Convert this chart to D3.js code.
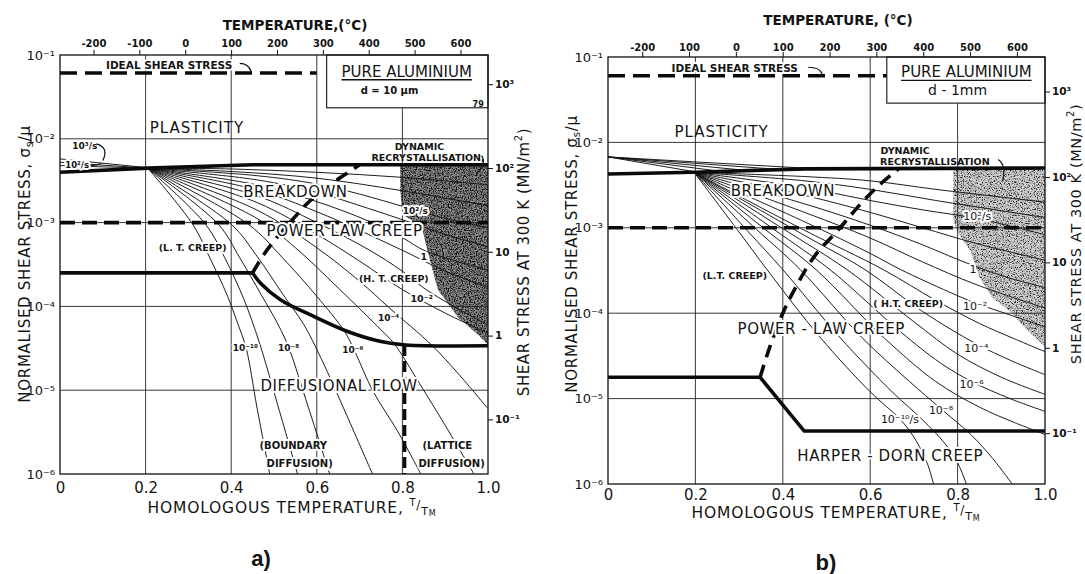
<!DOCTYPE html>
<html><head><meta charset="utf-8">
<script src="https://cdn.jsdelivr.net/npm/d3@7/dist/d3.min.js"></script>
<style>
html,body{margin:0;padding:0;background:#fff;}
svg{display:block;}
text{font-family:"DejaVu Sans","Liberation Sans",sans-serif;fill:#141414;}
.ko{paint-order:stroke;stroke:#fff;stroke-width:4px;stroke-linejoin:round;}
</style></head><body>
<svg id="chart" width="1085" height="574" xmlns="http://www.w3.org/2000/svg"></svg>
<script>
// ================= DATA =================
const homologousTicks = [0, 0.2, 0.4, 0.6, 0.8, 1.0];
const homologousLabels = ["0", "0.2", "0.4", "0.6", "0.8", "1.0"];
const stressExponents = [-1, -2, -3, -4, -5, -6];
const stressLabels = ["10⁻¹", "10⁻²", "10⁻³", "10⁻⁴", "10⁻⁵", "10⁻⁶"];
const celsiusTicks = [-200, -100, 0, 100, 200, 300, 400, 500, 600];
const celsiusLabelsA = ["-200", "-100", "0", "100", "200", "300", "400", "500", "600"];
const celsiusLabelsB = ["-200", "100", "0", "100", "200", "300", "400", "500", "600"];
const meltingPointK = 933;
const shearStressTicks = [1000, 100, 10, 1, 0.1];
const shearStressLabelsA = ["10³", "10²", "10", "1", "10⁻¹"];
const shearStressLabelsB = ["10³", "10²", "10", "1", "10⁻¹"];
const shearModulusA = 22300;   // MN/m2 at 300 K
const shearModulusB = 25400;
const gridT = [0.2, 0.4, 0.6, 0.8];
const gridL = [-2, -3, -4, -5];

// strain-rate contour exponents (10^e /s), top to bottom
const contourExponents = [4, 3, 2, 1, 0, -1, -2, -3, -4, -5, -6, -7, -8, -9, -10];

// (T/TM, log10 sigma/mu)
const contoursA = [
  [[0.205,-2.35],[0.40,-2.36],[0.60,-2.40],[0.80,-2.46],[1.0,-2.55]],
  [[0.205,-2.35],[0.40,-2.39],[0.60,-2.47],[0.80,-2.62],[1.0,-2.80]],
  [[0.205,-2.35],[0.46,-2.44],[0.60,-2.54],[0.70,-2.66],[0.81,-2.82],[0.90,-2.95],[1.0,-3.06]],
  [[0.205,-2.35],[0.46,-2.49],[0.60,-2.64],[0.72,-2.83],[0.82,-3.00],[0.90,-3.14],[1.0,-3.29]],
  [[0.205,-2.35],[0.46,-2.55],[0.60,-2.75],[0.72,-2.98],[0.80,-3.18],[0.85,-3.33],[0.92,-3.45],[1.0,-3.57]],
  [[0.205,-2.35],[0.46,-2.61],[0.60,-2.87],[0.72,-3.14],[0.82,-3.38],[0.90,-3.58],[1.0,-3.77]],
  [[0.205,-2.35],[0.46,-2.68],[0.60,-3.00],[0.72,-3.32],[0.80,-3.58],[0.85,-3.78],[0.92,-4.00],[1.0,-4.22]],
  [[0.205,-2.35],[0.46,-2.76],[0.60,-3.14],[0.70,-3.46],[0.80,-3.80],[0.90,-4.08],[1.0,-4.32]],
  [[0.205,-2.35],[0.46,-2.85],[0.60,-3.30],[0.70,-3.70],[0.77,-4.02],[0.87,-4.47],[0.93,-4.80],[1.0,-5.22]],
  [[0.205,-2.35],[0.46,-2.95],[0.55,-3.30],[0.65,-3.78],[0.75,-4.28],[0.78,-4.44],[0.84,-4.92],[0.90,-5.42],[0.967,-6.0]],
  [[0.205,-2.35],[0.44,-3.02],[0.52,-3.42],[0.60,-3.88],[0.665,-4.30],[0.69,-4.55],[0.73,-5.00],[0.79,-5.50],[0.843,-6.0]],
  [[0.205,-2.35],[0.40,-3.02],[0.46,-3.40],[0.52,-3.85],[0.57,-4.22],[0.61,-4.62],[0.67,-5.30],[0.73,-6.0]],
  [[0.205,-2.35],[0.37,-3.02],[0.42,-3.42],[0.47,-3.86],[0.51,-4.22],[0.535,-4.50],[0.58,-5.20],[0.63,-6.0]],
  [[0.205,-2.35],[0.34,-3.02],[0.385,-3.42],[0.43,-3.92],[0.465,-4.42],[0.51,-5.20],[0.555,-6.0]],
  [[0.205,-2.35],[0.31,-3.02],[0.35,-3.42],[0.39,-3.86],[0.415,-4.20],[0.435,-4.50],[0.46,-5.20],[0.49,-6.0]]
];
const contoursB = [
  [[0.197,-2.35],[0.45,-2.40],[0.60,-2.45],[0.75,-2.55],[0.90,-2.64],[1.0,-2.70]],
  [[0.197,-2.35],[0.45,-2.45],[0.60,-2.55],[0.75,-2.68],[0.90,-2.80],[1.0,-2.88]],
  [[0.197,-2.35],[0.45,-2.53],[0.60,-2.68],[0.72,-2.79],[0.845,-2.89],[0.92,-2.98],[1.0,-3.08]],
  [[0.197,-2.35],[0.45,-2.62],[0.60,-2.82],[0.72,-3.00],[0.84,-3.18],[1.0,-3.38]],
  [[0.197,-2.35],[0.45,-2.72],[0.60,-2.97],[0.72,-3.20],[0.80,-3.37],[0.90,-3.56],[1.0,-3.70]],
  [[0.197,-2.35],[0.45,-2.82],[0.60,-3.12],[0.72,-3.40],[0.84,-3.66],[1.0,-3.94]],
  [[0.197,-2.35],[0.45,-2.93],[0.60,-3.30],[0.67,-3.49],[0.78,-3.75],[0.84,-3.88],[0.92,-4.02],[1.0,-4.16]],
  [[0.197,-2.35],[0.45,-3.03],[0.63,-3.49],[0.75,-3.85],[0.85,-4.12],[0.93,-4.30],[1.0,-4.45]],
  [[0.197,-2.35],[0.45,-3.09],[0.588,-3.49],[0.72,-3.98],[0.843,-4.36],[0.92,-4.55],[1.0,-4.72]],
  [[0.197,-2.35],[0.40,-3.01],[0.547,-3.49],[0.70,-4.10],[0.80,-4.48],[0.90,-4.75],[1.0,-4.95]],
  [[0.197,-2.35],[0.38,-3.02],[0.508,-3.49],[0.67,-4.22],[0.76,-4.58],[0.832,-4.80],[0.92,-5.00],[1.0,-5.15]],
  [[0.197,-2.35],[0.36,-3.02],[0.476,-3.49],[0.63,-4.28],[0.75,-4.80],[0.85,-5.10],[0.93,-5.28],[1.0,-5.42]],
  [[0.197,-2.35],[0.34,-3.02],[0.44,-3.49],[0.58,-4.28],[0.69,-4.80],[0.762,-5.12],[0.83,-5.42],[0.88,-5.70],[0.925,-6.0]],
  [[0.197,-2.35],[0.32,-3.04],[0.40,-3.49],[0.53,-4.28],[0.65,-4.92],[0.72,-5.25],[0.77,-5.52],[0.80,-5.75],[0.82,-6.0]],
  [[0.197,-2.35],[0.30,-3.05],[0.364,-3.49],[0.485,-4.28],[0.60,-4.92],[0.668,-5.24],[0.70,-5.45],[0.73,-5.75],[0.745,-6.0]]
];
const plasticityContoursA = [
  [[0,-2.24],[0.205,-2.345]],
  [[0,-2.28],[0.205,-2.35]],
  [[0,-2.32],[0.205,-2.35]]
];
const plasticityContoursB = [
  [[0,-2.17],[0.20,-2.345]],
  [[0,-2.17],[0.26,-2.34]],
  [[0,-2.17],[0.32,-2.33]],
  [[0,-2.17],[0.40,-2.32]],
  [[0,-2.17],[0.48,-2.31]]
];
const plasticityBoundaryA = [[0,-2.40],[0.205,-2.35],[0.45,-2.31],[1,-2.31]];
const plasticityBoundaryB = [[0,-2.37],[0.197,-2.35],[0.45,-2.31],[1,-2.30]];
const idealShearA = [[0,-1.215],[0.60,-1.215]];
const idealShearB = [[0,-1.22],[0.638,-1.22]];
const breakdownLimitA = [[0,-3],[1,-3]];
const breakdownLimitB = [[0,-3],[1,-3]];
const creepFloorA = [[0,-3.6],[0.45,-3.6]];
const diffusionBoundaryA = [[0.45,-3.6],[0.468,-3.72],[0.515,-3.92],[0.593,-4.12],[0.672,-4.30],[0.75,-4.42],[0.808,-4.46],[1.0,-4.47]];
const ltHtBoundaryA = [[0.45,-3.6],[0.475,-3.39],[0.508,-3.17],[0.539,-2.99],[0.574,-2.79],[0.609,-2.63],[0.656,-2.46],[0.70,-2.31]];
const latticeBoundaryA = [[0.805,-4.46],[0.805,-6]];
const harperDornBoundaryB = [[0,-4.75],[0.348,-4.75],[0.449,-5.38],[1,-5.38]];
const ltHtBoundaryB = [[0.348,-4.75],[0.37,-4.40],[0.40,-4.00],[0.423,-3.76],[0.47,-3.35],[0.531,-3.00],[0.58,-2.71],[0.625,-2.48],[0.665,-2.31]];
const recrystallisationA = [[0.795,-2.31],[1.0,-2.31],[1.0,-4.46],[0.984,-4.37],[0.93,-4.13],[0.883,-3.80],[0.862,-3.40],[0.845,-3.05],[0.80,-2.90],[0.795,-2.60]];
const recrystallisationB = [[0.79,-2.30],[1.0,-2.30],[1.0,-4.40],[0.96,-4.20],[0.92,-3.98],[0.88,-3.82],[0.85,-3.58],[0.83,-3.28],[0.80,-3.05],[0.79,-2.90]];
const infoBoxA = [0.623, -1.63];
const infoBoxB = [0.638, -1.54];

// ================= LAYOUT =================
const panelA = {
  x0:60, x1:488, y0:55, y1:474, mu:shearModulusA, celsiusLabels:celsiusLabelsA, rightLabels:shearStressLabelsA,
  contours:contoursA, plast:plasticityContoursA, plastB:plasticityBoundaryA, ideal:idealShearA, brk:breakdownLimitA,
  box:infoBoxA, recryst:recrystallisationA, shadeBase:"#8e8e8e", stip:"stipA",
  topPad:3, botPad:8, topTitle:{x:295,y:25,s:"TEMPERATURE,(°C)"}, botTitle:{x:292,y:508},
  leftTitle:{x:25,y:264}, rightTitle:{x:524,y:262}, rtSize:15, tag:{x:261,y:558,s:"a)"},
  thick:[{d:creepFloorA,c:false},{d:diffusionBoundaryA,c:true}],
  dashed:[{d:ltHtBoundaryA,da:"13,8"},{d:latticeBoundaryA,da:"11,5"}],
  hooks:[[[0.42,-1.10],[0.44,-1.10],[0.447,-1.20]],[[0.985,-2.20],[0.998,-2.30],[0.972,-2.42]],
         [[0.085,-2.06],[0.115,-2.10],[0.10,-2.26]],[[0.066,-2.31],[0.08,-2.33],[0.097,-2.295]]],
  ann:[
    {t:0.32,L:-1.87,s:"PLASTICITY",fs:15,ls:1},
    {t:0.255,L:-1.115,s:"IDEAL  SHEAR  STRESS",fs:10.5,fw:"bold",ko:1},
    {t:0.55,L:-2.63,s:"BREAKDOWN",fs:15,ko:1,ls:0.5},
    {t:0.665,L:-3.10,s:"POWER LAW CREEP",fs:15,ko:1,ls:0.6},
    {t:0.31,L:-3.30,s:"(L. T. CREEP)",fs:9.5,fw:"bold",ko:1},
    {t:0.78,L:-3.67,s:"(H. T. CREEP)",fs:9.5,fw:"bold",ko:1},
    {t:0.652,L:-4.95,s:"DIFFUSIONAL  FLOW",fs:15,ko:1,ls:0.6},
    {t:0.545,L:-5.66,s:"(BOUNDARY",fs:10,fw:"bold",ko:1},
    {t:0.56,L:-5.87,s:"DIFFUSION)",fs:10,fw:"bold",ko:1},
    {t:0.905,L:-5.66,s:"(LATTICE",fs:10,fw:"bold",ko:1},
    {t:0.915,L:-5.88,s:"DIFFUSION)",fs:10,fw:"bold",ko:1},
    {t:0.84,L:-2.09,s:"DYNAMIC",fs:9.5,fw:"bold"},
    {t:0.86,L:-2.22,s:"RECRYSTALLISATION,",fs:9.5,fw:"bold"},
    {t:0.81,L:-1.20,s:"PURE  ALUMINIUM",fs:15,ul:1},
    {t:0.77,L:-1.42,s:"d = 10 μm",fs:10,fw:"bold"},
    {t:0.977,L:-1.585,s:"79",fs:8,fw:"bold"},
    {t:0.058,L:-2.08,s:"10³/s",fs:9,fw:"bold"},
    {t:0.04,L:-2.315,s:"10²/s",fs:8.5,fw:"bold",ko:1},
    {t:0.83,L:-2.86,s:"10²/s",fs:9,fw:"bold",ko:1},
    {t:0.85,L:-3.40,s:"1",fs:9.5,fw:"bold",ko:1},
    {t:0.845,L:-3.90,s:"10⁻²",fs:9.5,fw:"bold",ko:1},
    {t:0.768,L:-4.14,s:"10⁻⁴",fs:9,fw:"bold",ko:1},
    {t:0.684,L:-4.52,s:"10⁻⁶",fs:9,fw:"bold",ko:1},
    {t:0.534,L:-4.50,s:"10⁻⁸",fs:9,fw:"bold",ko:1},
    {t:0.433,L:-4.50,s:"10⁻¹⁰",fs:9,fw:"bold",ko:1}
  ]
};
const panelB = {
  x0:608, x1:1045, y0:57, y1:484, mu:shearModulusB, celsiusLabels:celsiusLabelsB, rightLabels:shearStressLabelsB,
  contours:contoursB, plast:plasticityContoursB, plastB:plasticityBoundaryB, ideal:idealShearB, brk:breakdownLimitB,
  box:infoBoxB, recryst:recrystallisationB, shadeBase:"#cdcdcd", stip:"stipB",
  topPad:1, botPad:5, topTitle:{x:838,y:20,s:"TEMPERATURE, (°C)"}, botTitle:{x:836,y:513},
  leftTitle:{x:572,y:254}, rightTitle:{x:1076,y:234}, rtSize:14.5, tag:{x:826,y:562,s:"b)"},
  thick:[{d:harperDornBoundaryB,c:false}],
  dashed:[{d:ltHtBoundaryB,da:"13,8"}],
  hooks:[[[0.458,-1.12],[0.485,-1.12],[0.49,-1.20]],[[0.893,-2.20],[0.912,-2.27],[0.903,-2.45]]],
  ann:[
    {t:0.26,L:-1.88,s:"PLASTICITY",fs:15,ls:1},
    {t:0.29,L:-1.13,s:"IDEAL  SHEAR  STRESS",fs:10.5,fw:"bold",ko:1},
    {t:0.40,L:-2.57,s:"BREAKDOWN",fs:15,ko:1,ls:0.5},
    {t:0.488,L:-4.18,s:"POWER - LAW  CREEP",fs:15,ko:1,ls:0.6},
    {t:0.29,L:-3.56,s:"(L.T. CREEP)",fs:9.5,fw:"bold",ko:1},
    {t:0.687,L:-3.89,s:"( H.T. CREEP)",fs:9.5,fw:"bold",ko:1},
    {t:0.646,L:-5.67,s:"HARPER - DORN  CREEP",fs:15,ko:1,ls:0.6},
    {t:0.68,L:-2.10,s:"DYNAMIC",fs:9.5,fw:"bold"},
    {t:0.748,L:-2.22,s:"RECRYSTALLISATION",fs:9.5,fw:"bold"},
    {t:0.82,L:-1.18,s:"PURE  ALUMINIUM",fs:15,ul:1},
    {t:0.80,L:-1.386,s:"d - 1mm",fs:14},
    {t:0.845,L:-2.87,s:"10²/s",fs:11,ko:1},
    {t:0.835,L:-3.49,s:"1",fs:11,ko:1},
    {t:0.84,L:-3.92,s:"10⁻²",fs:11,ko:1},
    {t:0.843,L:-4.41,s:"10⁻⁴",fs:11,ko:1},
    {t:0.832,L:-4.83,s:"10⁻⁶",fs:11,ko:1},
    {t:0.762,L:-5.14,s:"10⁻⁸",fs:11,ko:1},
    {t:0.668,L:-5.24,s:"10⁻¹⁰/s",fs:11,ko:1}
  ]
};

// ================= DRAW =================
const svg = d3.select("#chart");
svg.append("rect").attr("width",1085).attr("height",574).attr("fill","#fff");
const defs = svg.append("defs");
function stipple(id, seed, slope, offset){
  const f = defs.append("filter").attr("id",id).attr("x",0).attr("y",0).attr("width",1).attr("height",1);
  f.append("feTurbulence").attr("type","fractalNoise").attr("baseFrequency",0.85).attr("numOctaves",2).attr("seed",seed).attr("result","n");
  f.append("feColorMatrix").attr("in","n").attr("type","matrix")
   .attr("values",`0 0 0 0 0  0 0 0 0 0  0 0 0 0 0  ${-slope} 0 0 0 ${offset}`).attr("result","d");
  f.append("feComposite").attr("in","d").attr("in2","SourceAlpha").attr("operator","in");
}
stipple("stipA", 3, 3.0, 1.8);
stipple("stipB", 7, 3.2, 1.65);

function drawPanel(P){
  const g = svg.append("g");
  const x = d3.scaleLinear().domain([0,1]).range([P.x0,P.x1]);
  const y = d3.scaleLog().domain([1e-6,1e-1]).range([P.y1,P.y0]);
  const X = d => x(d[0]), Y = d => y(Math.pow(10,d[1]));
  const straight = d3.line().x(X).y(Y);
  const smooth = d3.line().x(X).y(Y).curve(d3.curveCatmullRom.alpha(0.5));

  // recrystallisation shading
  g.append("path").attr("d", straight(P.recryst)+"Z").attr("fill",P.shadeBase);
  g.append("path").attr("d", straight(P.recryst)+"Z").attr("fill","#000").attr("filter",`url(#${P.stip})`);

  // grid
  const gg = g.append("g").attr("stroke","#222").attr("stroke-width",0.9);
  gridT.forEach(t=>{
    const top = t===0.8 ? P.box[1] : -1;
    gg.append("line").attr("x1",x(t)).attr("x2",x(t)).attr("y1",y(10**top)).attr("y2",y(1e-6));
  });
  gridL.forEach(L=>{
    gg.append("line").attr("x1",P.x0).attr("x2",P.x1).attr("y1",y(10**L)).attr("y2",y(10**L));
  });

  // info box
  g.append("rect").attr("x",x(P.box[0])).attr("y",P.y0).attr("width",P.x1-x(P.box[0]))
   .attr("height",y(10**P.box[1])-P.y0).attr("fill","#fff").attr("stroke","#111").attr("stroke-width",1.1);

  // contours
  const cg = g.append("g").attr("fill","none").attr("stroke","#111").attr("stroke-width",0.95);
  P.contours.forEach((c,i)=>cg.append("path").attr("d",smooth(c)).attr("data-rate",contourExponents[i]));
  P.plast.forEach(c=>cg.append("path").attr("d",straight(c)));

  // boundaries
  const bg = g.append("g").attr("fill","none").attr("stroke","#0a0a0a").attr("stroke-linecap","butt");
  bg.append("path").attr("d",straight(P.plastB)).attr("stroke-width",3.6);
  P.thick.forEach(b=>bg.append("path").attr("d",(b.c?smooth:straight)(b.d)).attr("stroke-width",3.6));
  bg.append("path").attr("d",straight(P.ideal)).attr("stroke-width",3.6).attr("stroke-dasharray","17,8");
  bg.append("path").attr("d",straight(P.brk)).attr("stroke-width",3.6).attr("stroke-dasharray","15,7");
  P.dashed.forEach(b=>bg.append("path").attr("d",smooth(b.d)).attr("stroke-width",3.6).attr("stroke-dasharray",b.da));

  // hooks / leaders
  P.hooks.forEach(h=>{
    g.append("path").attr("d",`M${X(h[0])},${Y(h[0])} Q${X(h[1])},${Y(h[1])} ${X(h[2])},${Y(h[2])}`)
     .attr("fill","none").attr("stroke","#111").attr("stroke-width",1.2);
  });

  // annotations
  P.ann.forEach(a=>{
    const t = g.append("text").attr("x",X([a.t,a.L])).attr("y",Y([a.t,a.L]))
      .attr("text-anchor","middle").attr("dominant-baseline","central")
      .attr("font-size",a.fs).attr("font-weight",a.fw||"normal").text(a.s);
    if(a.ls) t.attr("letter-spacing",a.ls);
    if(a.ko) t.attr("class","ko");
    if(a.ul){
      const bb = t.node().getBBox();
      g.append("line").attr("x1",bb.x).attr("x2",bb.x+bb.width).attr("y1",bb.y+bb.height-1).attr("y2",bb.y+bb.height-1)
       .attr("stroke","#111").attr("stroke-width",1.3);
    }
  });

  // frame
  g.append("rect").attr("x",P.x0).attr("y",P.y0).attr("width",P.x1-P.x0).attr("height",P.y1-P.y0)
   .attr("fill","none").attr("stroke","#111").attr("stroke-width",1.3);

  // top axis (Celsius)
  const xC = d3.scaleLinear().domain([-273, meltingPointK-273]).range([P.x0,P.x1]);
  const ta = g.append("g").attr("transform",`translate(0,${P.y0})`)
    .call(d3.axisTop(xC).tickValues(celsiusTicks).tickFormat((d,i)=>P.celsiusLabels[i]).tickSize(5).tickPadding(P.topPad));
  ta.select(".domain").remove();
  ta.attr("font-size",10).attr("font-weight","bold").attr("color","#111");

  // bottom axis (homologous temperature)
  const ba = g.append("g").attr("transform",`translate(0,${P.y1})`)
    .call(d3.axisBottom(x).tickValues(homologousTicks).tickFormat((d,i)=>homologousLabels[i]).tickSize(0).tickPadding(P.botPad));
  ba.select(".domain").remove();
  ba.attr("font-size",15).attr("color","#111");

  // left axis (normalised stress)
  const la = g.append("g").attr("transform",`translate(${P.x0},0)`)
    .call(d3.axisLeft(y).tickValues(stressExponents.map(e=>Math.pow(10,e))).tickFormat((d,i)=>stressLabels[i]).tickSize(0).tickPadding(5));
  la.select(".domain").remove();
  la.attr("font-size",13).attr("color","#111");

  // right axis (shear stress at 300 K)
  const yR = d3.scaleLog().domain([1e-6*P.mu, 1e-1*P.mu]).range([P.y1,P.y0]);
  const ra = g.append("g").attr("transform",`translate(${P.x1},0)`)
    .call(d3.axisRight(yR).tickValues(shearStressTicks).tickFormat((d,i)=>P.rightLabels[i]).tickSize(5).tickPadding(2));
  ra.select(".domain").remove();
  ra.attr("font-size",10.5).attr("font-weight","bold").attr("color","#111");

  // titles
  g.append("text").attr("x",P.topTitle.x).attr("y",P.topTitle.y).attr("text-anchor","middle").attr("dominant-baseline","central")
   .attr("font-size",13.5).attr("font-weight","bold").text(P.topTitle.s);

  const bt = g.append("text").attr("x",P.botTitle.x).attr("y",P.botTitle.y).attr("text-anchor","middle").attr("dominant-baseline","central")
   .attr("font-size",15.5).attr("letter-spacing",0.8);
  bt.append("tspan").text("HOMOLOGOUS  TEMPERATURE,  ");
  bt.append("tspan").attr("font-size",10).attr("dy",-6).text("T");
  bt.append("tspan").attr("font-size",12).attr("dy",3).text("/");
  bt.append("tspan").attr("font-size",11).attr("dy",6).text("T");
  bt.append("tspan").attr("font-size",8).attr("dy",2).text("M");

  const lt = g.append("text").attr("transform",`translate(${P.leftTitle.x},${P.leftTitle.y}) rotate(-90)`)
   .attr("text-anchor","middle").attr("dominant-baseline","central").attr("font-size",15).attr("letter-spacing",0.7);
  lt.append("tspan").text("NORMALISED  SHEAR  STRESS,  σ");
  lt.append("tspan").attr("font-size",10).attr("dy",4).text("s");
  lt.append("tspan").attr("dy",-4).text("/μ");

  const rt = g.append("text").attr("transform",`translate(${P.rightTitle.x},${P.rightTitle.y}) rotate(-90)`)
   .attr("text-anchor","middle").attr("dominant-baseline","central").attr("font-size",P.rtSize).attr("letter-spacing",0.6);
  rt.append("tspan").text("SHEAR  STRESS  AT  300 K  (MN/m");
  rt.append("tspan").attr("font-size",10).attr("dy",-6).text("2");
  rt.append("tspan").attr("dy",6).text(")");

  svg.append("text").attr("x",P.tag.x).attr("y",P.tag.y).attr("text-anchor","middle").attr("dominant-baseline","central")
   .style("font-family","'Liberation Sans',Arial,sans-serif").attr("font-size",22).attr("font-weight","bold").text(P.tag.s);
}
drawPanel(panelA);
drawPanel(panelB);
</script></body></html>
